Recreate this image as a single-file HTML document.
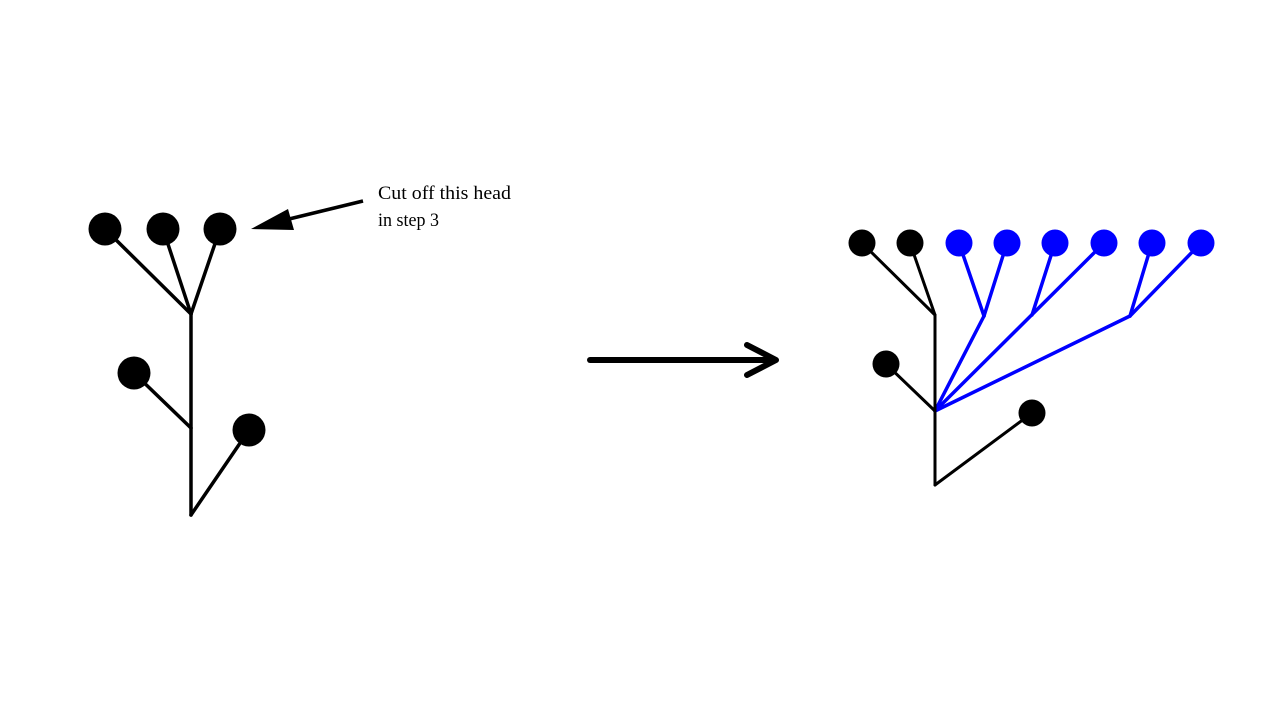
<!DOCTYPE html>
<html><head><meta charset="utf-8"><style>html,body{margin:0;padding:0;background:#fff;}svg{display:block;}</style></head>
<body>
<svg width="1280" height="720" viewBox="0 0 1280 720" xmlns="http://www.w3.org/2000/svg">
<rect width="1280" height="720" fill="#fff"/>
<g stroke="#000" stroke-width="3.5" fill="none" stroke-linecap="round">
<line x1="105" y1="229" x2="191" y2="314"/>
<line x1="163" y1="229" x2="191" y2="314"/>
<line x1="220" y1="229" x2="191" y2="314"/>
<line x1="191" y1="314" x2="191" y2="515"/>
<line x1="134" y1="373" x2="191" y2="428"/>
<line x1="249" y1="430" x2="191" y2="515"/>
</g>
<g fill="#000">
<circle cx="105" cy="229" r="16.5"/><circle cx="163" cy="229" r="16.5"/><circle cx="220" cy="229" r="16.5"/>
<circle cx="134" cy="373" r="16.5"/><circle cx="249" cy="430" r="16.5"/>
</g>
<line x1="363" y1="201" x2="285" y2="220" stroke="#000" stroke-width="3.5"/>
<polygon points="251,229 288,209 294,230" fill="#000"/>
<text font-family="Liberation Serif, serif" font-size="19" fill="#000"><tspan x="378" y="199" textLength="133" lengthAdjust="spacingAndGlyphs">Cut off this head</tspan><tspan x="378" y="226" textLength="61" lengthAdjust="spacingAndGlyphs">in step 3</tspan></text>
<g stroke="#000" stroke-width="6" fill="none" stroke-linecap="round" stroke-linejoin="round">
<line x1="590" y1="360" x2="774" y2="360"/>
<polyline points="747,345 776,360 747,375"/>
</g>
<g stroke="#0000ff" stroke-width="3.5" fill="none" stroke-linecap="round">
<line x1="959" y1="243" x2="984" y2="316"/>
<line x1="1007" y1="243" x2="984" y2="316"/>
<line x1="1055" y1="243" x2="1032" y2="315"/>
<line x1="1104" y1="243" x2="935" y2="411"/>
<line x1="1152" y1="243" x2="1130" y2="316"/>
<line x1="1201" y1="243" x2="1130" y2="316"/>
<line x1="984" y1="316" x2="935" y2="411"/>
<line x1="1130" y1="316" x2="935" y2="411"/>
</g>
<g stroke="#000" stroke-width="3" fill="none" stroke-linecap="round">
<line x1="862" y1="243" x2="935" y2="315"/>
<line x1="910" y1="243" x2="935" y2="315"/>
<line x1="935" y1="315" x2="935" y2="485"/>
<line x1="886" y1="364" x2="935" y2="411"/>
<line x1="1032" y1="413" x2="935" y2="485"/>
</g>
<g fill="#000">
<circle cx="862" cy="243" r="13.5"/><circle cx="910" cy="243" r="13.5"/>
<circle cx="886" cy="364" r="13.5"/><circle cx="1032" cy="413" r="13.5"/>
</g>
<g fill="#0000ff">
<circle cx="959" cy="243" r="13.5"/><circle cx="1007" cy="243" r="13.5"/><circle cx="1055" cy="243" r="13.5"/>
<circle cx="1104" cy="243" r="13.5"/><circle cx="1152" cy="243" r="13.5"/><circle cx="1201" cy="243" r="13.5"/>
</g>
</svg>
</body></html>
